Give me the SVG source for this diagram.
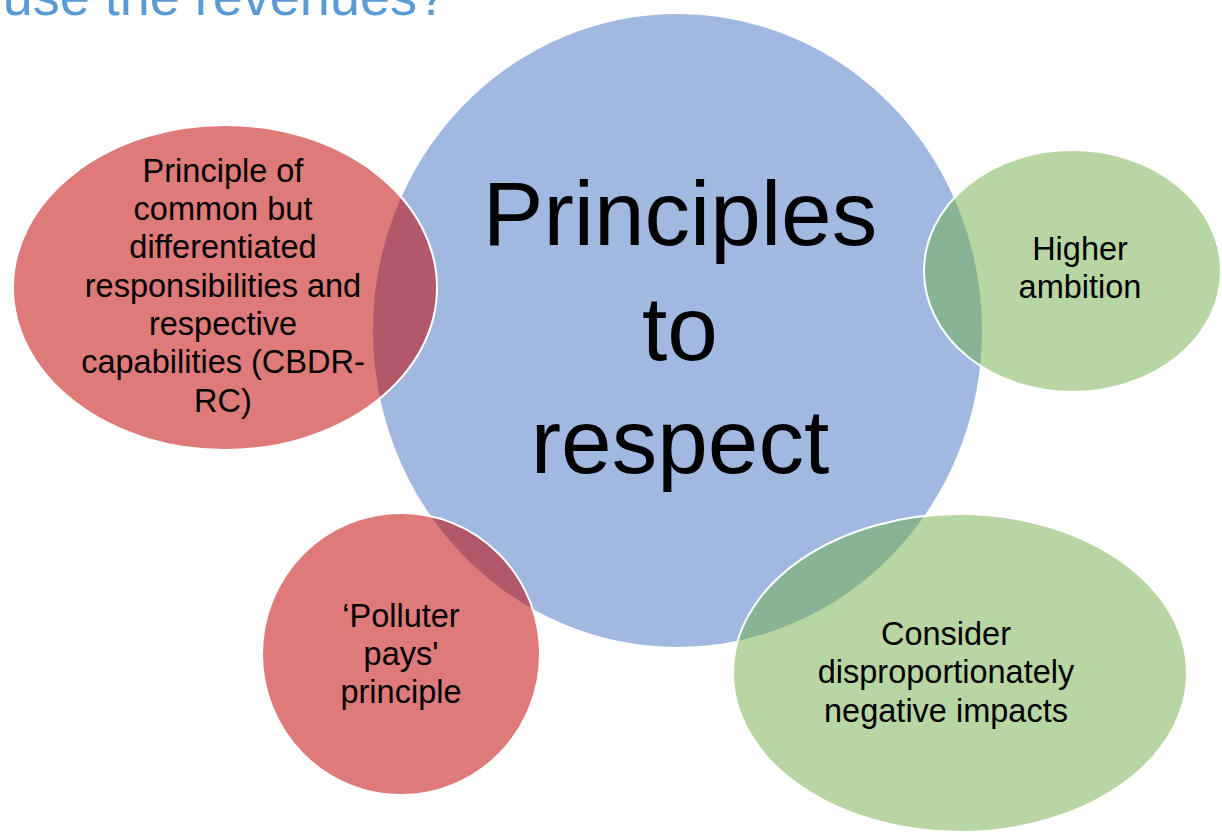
<svg xmlns="http://www.w3.org/2000/svg" width="1222" height="832" viewBox="0 0 1222 832">
  <style>
    .title { font-family: "Liberation Sans", Arial, sans-serif; font-size: 54px; fill: #5B9BD5; }
    .main { font-family: "Liberation Sans", Arial, sans-serif; font-size: 91px; fill: #000; text-anchor: middle; }
    .lbl { font-family: "Liberation Sans", Arial, sans-serif; font-size: 32.5px; fill: #000; text-anchor: middle; }
    .blue { fill: #A1B8E0; stroke: #fff; stroke-width: 2; }
    .red { fill: #C00000; fill-opacity: 0.52; stroke: #fff; stroke-width: 2; }
    .green { fill: #70AD47; fill-opacity: 0.5; stroke: #fff; stroke-width: 2; }
  </style>
  <rect width="1222" height="832" fill="#fff"/>
  <text class="title" x="447" y="15" text-anchor="end">use the revenues?</text>
  <g id="center">
    <ellipse class="blue" cx="677.5" cy="330.5" rx="305.5" ry="317.5"/>
    <text class="main" x="680" y="245">Principles</text>
    <text class="main" x="680" y="360">to</text>
    <text class="main" x="680" y="473">respect</text>
  </g>
  <g id="cbdr">
    <ellipse class="red" cx="225" cy="287.5" rx="212" ry="162.5"/>
    <text class="lbl" x="223" y="182">Principle of</text>
    <text class="lbl" x="223" y="220">common but</text>
    <text class="lbl" x="223" y="258">differentiated</text>
    <text class="lbl" x="223" y="297">responsibilities and</text>
    <text class="lbl" x="223" y="335">respective</text>
    <text class="lbl" x="223" y="373">capabilities (CBDR-</text>
    <text class="lbl" x="223" y="412">RC)</text>
  </g>
  <g id="ambition">
    <ellipse class="green" cx="1072.5" cy="271" rx="148.5" ry="121"/>
    <text class="lbl" x="1080" y="260">Higher</text>
    <text class="lbl" x="1080" y="298">ambition</text>
  </g>
  <g id="polluter">
    <ellipse class="red" cx="401" cy="654" rx="139" ry="141"/>
    <text class="lbl" x="401" y="627">‘Polluter</text>
    <text class="lbl" x="401" y="665">pays'</text>
    <text class="lbl" x="401" y="703">principle</text>
  </g>
  <g id="impacts">
    <ellipse class="green" cx="960" cy="673" rx="227" ry="159"/>
    <text class="lbl" x="946" y="645">Consider</text>
    <text class="lbl" x="946" y="683">disproportionately</text>
    <text class="lbl" x="946" y="722">negative impacts</text>
  </g>
  <g id="connectors"/>
</svg>
